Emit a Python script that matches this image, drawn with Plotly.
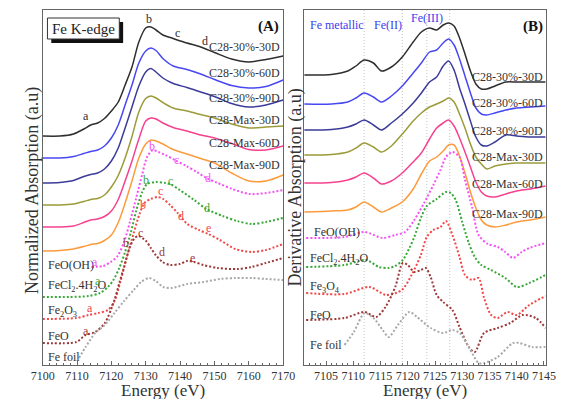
import plotly.graph_objects as go

# ---------------- Panel A : normalized XANES (offset-stacked, a.u.) ----------------
E_A = [7100, 7105, 7109, 7112, 7114, 7116, 7118, 7120, 7122, 7124, 7126, 7128, 7130,
       7131.5, 7133, 7135, 7138, 7142, 7146, 7150, 7155, 7160, 7165, 7170]
A_30_30 = [229, 229, 231, 236, 240, 242, 246.5, 254, 263, 280, 298, 323, 337,
           338, 335, 330, 326.5, 322, 318, 312.5, 306, 303, 305.5, 309]
A_30_60 = [207, 207, 208.5, 211.5, 213.5, 215, 219, 227, 240, 260, 280, 302, 314,
           317, 314.5, 306.5, 299, 295.5, 291, 285.5, 279.5, 277, 278.5, 285]
A_30_90 = [182, 182.5, 184.5, 188.5, 190.5, 192, 196, 204, 217, 237, 258, 279, 293,
           296.5, 293, 287, 281.5, 277.5, 273, 268.5, 261.5, 258, 260, 265]
A_M_30 = [160, 160, 161, 163.5, 165.5, 166.5, 170, 178, 189.5, 207, 228.5, 253, 266.5,
          269, 267, 262.5, 257, 254, 250.5, 247, 241, 237, 238, 239]
A_M_60 = [138, 138, 139, 142.5, 145, 146, 148.5, 154, 165.5, 184, 204, 226, 244,
          247, 246, 242, 237.5, 234, 230, 227, 221.5, 215.5, 215, 219]
A_M_90 = [114, 114.5, 116, 118.5, 120.5, 121.5, 124.5, 130, 142.5, 162, 184, 207, 221,
          225, 224, 221, 215.5, 211, 206.5, 202, 192, 184, 184, 190]

E_A_feooh = [7114.2, 7117.6, 7119.8, 7121.8, 7123.7, 7125.4, 7127.3, 7129.0, 7130.4, 7132.1,
             7133.7, 7135.7, 7138.5, 7141.8, 7144.9, 7147.7, 7151.0, 7155.2, 7160.2, 7165.0, 7170]
A_feooh = [98, 99, 103, 109, 123, 143, 168, 191, 208, 215, 213, 210, 205, 199, 193, 187,
           182, 176, 171, 172, 175]
E_A_fecl2 = [7100, 7107.8, 7113.4, 7116.7, 7119.0, 7120.6, 7122.3, 7124.0, 7125.7, 7127.3,
             7129.0, 7130.4, 7132.9, 7135.7, 7137.6, 7139.9, 7144.1, 7147.7, 7152.4, 7156.6,
             7160.8, 7165.0, 7170]
A_fecl2 = [68, 68, 69, 72, 78, 85, 97, 113, 133, 155, 173, 181, 183, 182, 180, 175, 165,
           156, 149, 144, 141, 143, 147]
E_A_fe2o3 = [7100, 7109.8, 7113.4, 7116.2, 7119.0, 7120.9, 7122.6, 7124.5, 7126.5, 7128.2,
             7129.6, 7131.5, 7133.5, 7135.1, 7137.1, 7139.3, 7142.1, 7145.5, 7148.2, 7151.6,
             7156.1, 7160.8, 7165, 7170]
A_fe2o3 = [46, 47, 50, 52, 55, 64, 83, 108, 132, 151, 162, 166, 168, 166, 160, 152, 141,
           135, 131, 125, 116, 113, 115, 121]
E_A_feo = [7100, 7109.8, 7112.5, 7115.3, 7118.1, 7120.9, 7122.3, 7123.7, 7125.4, 7126.8,
           7127.9, 7129, 7130.1, 7131.5, 7132.9, 7134.9, 7137.1, 7139.9, 7142.1, 7144.1,
           7146.8, 7151, 7156.6, 7160.8, 7165, 7170]
A_feo = [22, 23, 30, 33, 42, 65, 82, 98, 118, 127, 129, 127, 124, 117, 110, 103, 100, 101,
         104, 103, 100, 97, 96, 98, 102, 107]
E_A_fefoil = [7110.6, 7112.5, 7115.3, 7118.1, 7120.9, 7123.7, 7126.5, 7128.7, 7131, 7132.9,
              7135.1, 7137.6, 7142.1, 7146.8, 7151.6, 7156.1, 7160.8, 7165, 7170]
A_fefoil = [7, 18, 32, 40, 52, 64, 75, 83, 87, 84, 78, 77, 81, 83, 86, 87, 87, 86, 85]

# ---------------- Panel B : derivative spectra (offset-stacked, a.u.) ----------------
E_B = [7101, 7106, 7109, 7110.5, 7112, 7113.7, 7115.2, 7117, 7119, 7121, 7122.5, 7124,
       7125.3, 7126.5, 7127.5, 7128.5, 7129.5, 7130.5, 7131.5, 7132.5, 7133.5, 7134.5,
       7136, 7138, 7140, 7142.5, 7145.3]
B_30_30 = [290, 290.5, 294, 299, 305, 302, 294, 298, 308, 323, 333, 337, 335, 340, 342,
           339, 327, 311, 294, 281, 276, 276, 279, 283, 283, 283, 283]
B_30_60 = [261, 261, 263, 267, 272, 268, 263, 269, 279, 292, 302, 313, 315, 322, 326,
           320, 306, 289, 272, 257, 251, 250, 252, 255, 257, 258, 259]
B_30_90 = [235, 235.5, 238, 241, 245, 240, 235, 242, 251, 262, 272, 283, 288, 299, 304,
           295, 277, 261, 244, 228, 220, 219, 223, 230, 229, 228, 228]
B_M_30 = [210, 210.5, 213, 217, 222, 218, 213, 219, 231, 244, 252, 258, 261, 264, 267,
          263, 251, 237, 221, 208, 201, 196, 199, 201, 202, 202, 202]
B_M_60 = [182, 182.5, 185, 188, 192, 187, 181, 184, 192, 203, 212, 226, 237, 242, 245,
          239, 227, 213, 198, 183, 173, 169, 168, 171, 174, 176, 179]
B_M_90 = [153, 154, 155, 158, 163, 158, 153, 157, 163, 176, 191, 204, 208, 214, 220,
          220, 209, 192, 173, 157, 145, 140, 138, 140, 143, 145, 148]

E_B_feooh = [7101.35, 7108.4, 7112.1, 7115.4, 7117.7, 7119.5, 7121.2, 7123.0, 7124.7,
             7126.0, 7127.0, 7128.2, 7129.5, 7130.5, 7131.8, 7133.0, 7134.7, 7136.5,
             7137.9, 7139.3, 7140.9, 7142.3, 7145.3]
B_feooh = [127, 128, 133, 127, 130, 133, 145, 162, 180, 195, 208, 213, 208, 185, 158,
           130, 121, 118, 113, 107, 113, 117, 122]
E_B_fecl2 = [7101.35, 7108.4, 7112.4, 7114.7, 7116.5, 7117.7, 7119.1, 7120.3, 7121.2,
             7122.4, 7123.5, 7125.3, 7127.0, 7127.9, 7128.8, 7130.0, 7131.2, 7132.3,
             7133.5, 7135.3, 7137.9, 7140.0, 7142.3, 7145.3]
B_fecl2 = [98, 100, 105, 98, 97, 99, 105, 117, 128, 147, 159, 166, 173, 172, 165, 143,
           122, 108, 100, 95, 87, 78, 82, 90]
E_B_fe3o4 = [7101.35, 7108.4, 7113.0, 7116.0, 7118.9, 7120.7, 7122.4, 7123.5, 7124.7,
             7126.0, 7127.0, 7128.2, 7129.5, 7130.5, 7131.8, 7133.0, 7134.0, 7135.3,
             7136.5, 7138.3, 7140.0, 7142.3, 7145.3]
B_fe3o4 = [72, 71, 78, 70, 75, 90, 110, 128, 135, 138, 144, 130, 108, 90, 85, 87, 67,
           50, 47, 53, 50, 60, 69]
E_B_feo = [7101.35, 7108.4, 7112.1, 7114.2, 7115.9, 7117.7, 7119.1, 7120.0, 7121.2,
           7122.4, 7123.3, 7124.2, 7125.3, 7126.5, 7128.2, 7129.5, 7131.2, 7132.3,
           7134.0, 7136.5, 7138.8, 7141.1, 7143.5, 7145.3]
B_feo = [45, 47, 53, 48, 58, 78, 102, 100, 93, 95, 97, 88, 70, 63, 55, 38, 18, 13, 32,
         37, 42, 50, 47, 37]
E_B_fefoil = [7108.4, 7110.1, 7112.1, 7113.7, 7115.4, 7116.5, 7118.2, 7120.3, 7121.7,
              7124.2, 7126.5, 7128.2, 7129.5, 7131.2, 7133.0, 7134.0, 7136.5, 7139.3,
              7140.5, 7142.8, 7145.3]
B_fefoil = [20, 33, 52, 47, 35, 28, 40, 53, 48, 37, 32, 35, 32, 18, 2, 2, 8, 22, 22, 18, 18]

edge_lines = [7112, 7119, 7123.5, 7127.7]   # Fe metallic, Fe(II), Fe(III) guides

ticks_A = [7100, 7110, 7120, 7130, 7140, 7150, 7160, 7170]
ticks_B = [7105, 7110, 7115, 7120, 7125, 7130, 7135, 7140, 7145]

sample_names = ["C28-30%-30D", "C28-30%-60D", "C28-30%-90D",
                "C28-Max-30D", "C28-Max-60D", "C28-Max-90D"]
sample_colors = ["#2e2e2e", "#4848f2", "#3b3b99", "#9b9b3a", "#f5418f", "#fb9b3c"]
ref_colors = {"feooh": "#f552f5", "fecl2": "#38a838", "fe2o3": "#f24848",
              "feo": "#9c3838", "fefoil": "#a8a8a8"}

FONT = "Liberation Serif, Times New Roman, serif"
TXT = "#333333"

fig = go.Figure()

def add_line(x, y, color, ax, dotted=False):
    fig.add_trace(go.Scatter(
        x=x, y=y, mode="lines", xaxis="x" if ax == 1 else "x2",
        yaxis="y" if ax == 1 else "y2", hoverinfo="skip", showlegend=False,
        line=dict(color=color, width=2 if dotted else 1.5, shape="spline", smoothing=0.8,
                  dash="2px,2px" if dotted else "solid")))

# panel B guide lines (drawn first, below)
for e in edge_lines:
    fig.add_trace(go.Scatter(x=[e, e], y=[0, 355], mode="lines", xaxis="x2", yaxis="y2",
                             hoverinfo="skip", showlegend=False,
                             line=dict(color="#c4c4c4", width=1, dash="1px,2px")))

for ys, c in zip([A_30_30, A_30_60, A_30_90, A_M_30, A_M_60, A_M_90], sample_colors):
    add_line(E_A, ys, c, 1)
add_line(E_A_feooh, A_feooh, ref_colors["feooh"], 1, True)
add_line(E_A_fecl2, A_fecl2, ref_colors["fecl2"], 1, True)
add_line(E_A_fe2o3, A_fe2o3, ref_colors["fe2o3"], 1, True)
add_line(E_A_feo, A_feo, ref_colors["feo"], 1, True)
add_line(E_A_fefoil, A_fefoil, ref_colors["fefoil"], 1, True)

for ys, c in zip([B_30_30, B_30_60, B_30_90, B_M_30, B_M_60, B_M_90], sample_colors):
    add_line(E_B, ys, c, 2)
add_line(E_B_feooh, B_feooh, ref_colors["feooh"], 2, True)
add_line(E_B_fecl2, B_fecl2, ref_colors["fecl2"], 2, True)
add_line(E_B_fe3o4, B_fe3o4, ref_colors["fe2o3"], 2, True)
add_line(E_B_feo, B_feo, ref_colors["feo"], 2, True)
add_line(E_B_fefoil, B_fefoil, ref_colors["fefoil"], 2, True)

W, H = 572, 399
def px(x):
    return x / W
def py(y):
    return 1 - y / H

ann = []
def text(x, y, s, size=12, color=TXT, xanchor="center", xref="x", yref="y", bold=False,
         angle=0):
    ann.append(dict(x=x, y=y, xref=xref, yref=yref, text=("<b>%s</b>" % s) if bold else s,
                    showarrow=False, xanchor=xanchor, yanchor="middle", textangle=angle,
                    font=dict(family=FONT, size=size, color=color)))

# sample labels
A_label_h = [318, 292, 267, 245, 222, 200]
B_label_h = [288, 262, 234, 208, 181, 151]
for n, h in zip(sample_names, A_label_h):
    text(7169.8, h, n, xanchor="right")
for n, h in zip(sample_names, B_label_h):
    text(7145.2, h, n, xanchor="right", xref="x2", yref="y2")

ref_names_A = ["FeO(OH)", "FeCl<sub>2</sub>.4H<sub>2</sub>O", "Fe<sub>2</sub>O<sub>3</sub>", "FeO", "Fe foil"]
ref_names_B = ["FeO(OH)", "FeCl<sub>2</sub>.4H<sub>2</sub>O", "Fe<sub>3</sub>O<sub>4</sub>", "FeO", "Fe foil"]
for n, h in zip(ref_names_A, [100, 79, 54, 29, 8]):
    text(7101.1, h, n, xanchor="left")
for n, h, e in zip(ref_names_B, [133, 106, 78, 50, 20], [7102.4, 7101.7, 7101.7, 7101.7, 7101.7]):
    text(e, h, n, xanchor="left", xref="x2", yref="y2")

# feature letters on panel A
letters = [
    (7112.5, 249, "a", sample_colors[0]), (7131, 346, "b", sample_colors[0]),
    (7139.3, 332, "c", sample_colors[0]), (7147.4, 324, "d", sample_colors[0]),
    (7115.3, 103, "a", ref_colors["feooh"]), (7131.8, 219, "b", ref_colors["feooh"]),
    (7139, 205, "c", ref_colors["feooh"]), (7148, 187, "d", ref_colors["feooh"]),
    (7116.2, 84, "a", ref_colors["fecl2"]), (7130.1, 185, "b", ref_colors["fecl2"]),
    (7137.1, 184, "c", ref_colors["fecl2"]), (7147.7, 157, "d", ref_colors["fecl2"]),
    (7113.9, 57, "a", ref_colors["fe2o3"]), (7129.3, 160, "b", ref_colors["fe2o3"]),
    (7134.3, 174, "c", ref_colors["fe2o3"]), (7140.2, 149, "d", ref_colors["fe2o3"]),
    (7148.2, 137, "e", ref_colors["fe2o3"]),
    (7112.5, 34, "a", ref_colors["feo"]), (7124.3, 122, "b", ref_colors["feo"]),
    (7128.4, 132, "c", ref_colors["feo"]), (7134.6, 113, "d", ref_colors["feo"]),
    (7143.5, 107, "e", ref_colors["feo"]),
]
for e, h, s, c in letters:
    text(e, h, s, size=12, color=c)

# panel B region labels
text(7107, 340, "Fe metallic", xref="x2", yref="y2", color="#3c3cf0")
text(7116.3, 340, "Fe(II)", xref="x2", yref="y2", color="#3c3cf0")
text(7123.5, 347, "Fe(III)", xref="x2", yref="y2", color="#3c3cf0")

text(7165.8, 339, "(A)", size=15, color="#111", bold=True)
text(7143, 339, "(B)", size=15, color="#111", bold=True, xref="x2", yref="y2")

# axis titles
text(px(157.5), py(390), "Energy (eV)", size=17, xref="paper", yref="paper")
text(px(431), py(390), "Energy (eV)", size=17, xref="paper", yref="paper")
text(px(21), py(191), "Normalized Absorption (a.u)", size=18, xref="paper", yref="paper", angle=-90)
text(px(295), py(188), "Derivative Absorption (a.u)", size=18, xref="paper", yref="paper", angle=-90)

# Fe K-edge box with shadow
text(px(75), py(29), "Fe K-edge", size=15, xref="paper", yref="paper", color="#222")
shapes = [
    dict(type="rect", xref="paper", yref="paper", x0=px(41), x1=px(116), y0=py(43), y1=py(22),
         fillcolor="#111", line=dict(width=0)),
    dict(type="rect", xref="paper", yref="paper", x0=px(37), x1=px(112), y0=py(39), y1=py(18),
         fillcolor="white", line=dict(color="#333", width=1)),
]

axis_common = dict(showline=True, linecolor="#666", linewidth=1, mirror=True,
                   showgrid=False, zeroline=False, ticks="inside", ticklen=4,
                   tickcolor="#666", tickfont=dict(family=FONT, size=12, color=TXT))

fig.update_layout(
    width=W, height=H, margin=dict(l=0, r=0, t=0, b=0),
    paper_bgcolor="white", plot_bgcolor="white", showlegend=False,
    font=dict(family=FONT),
    xaxis=dict(domain=[px(32), px(283)], range=[7100, 7170], tickvals=ticks_A,
               minor=dict(dtick=2, ticks="inside", ticklen=2.5, tickcolor="#666"),
               anchor="y", **axis_common),
    yaxis=dict(domain=[py(365), py(10)], range=[0, 355], showticklabels=False,
               showline=True, linecolor="#666", mirror=True, ticks="", showgrid=False,
               zeroline=False, anchor="x"),
    xaxis2=dict(domain=[px(305), px(557)], range=[7101, 7145.3], tickvals=ticks_B,
                minor=dict(dtick=1, ticks="inside", ticklen=2.5, tickcolor="#666"),
                anchor="y2", **axis_common),
    yaxis2=dict(domain=[py(365), py(10)], range=[0, 355], showticklabels=False,
                showline=True, linecolor="#666", mirror=True, ticks="", showgrid=False,
                zeroline=False, anchor="x2"),
    annotations=ann, shapes=shapes,
)

fig.write_html("out.html")
